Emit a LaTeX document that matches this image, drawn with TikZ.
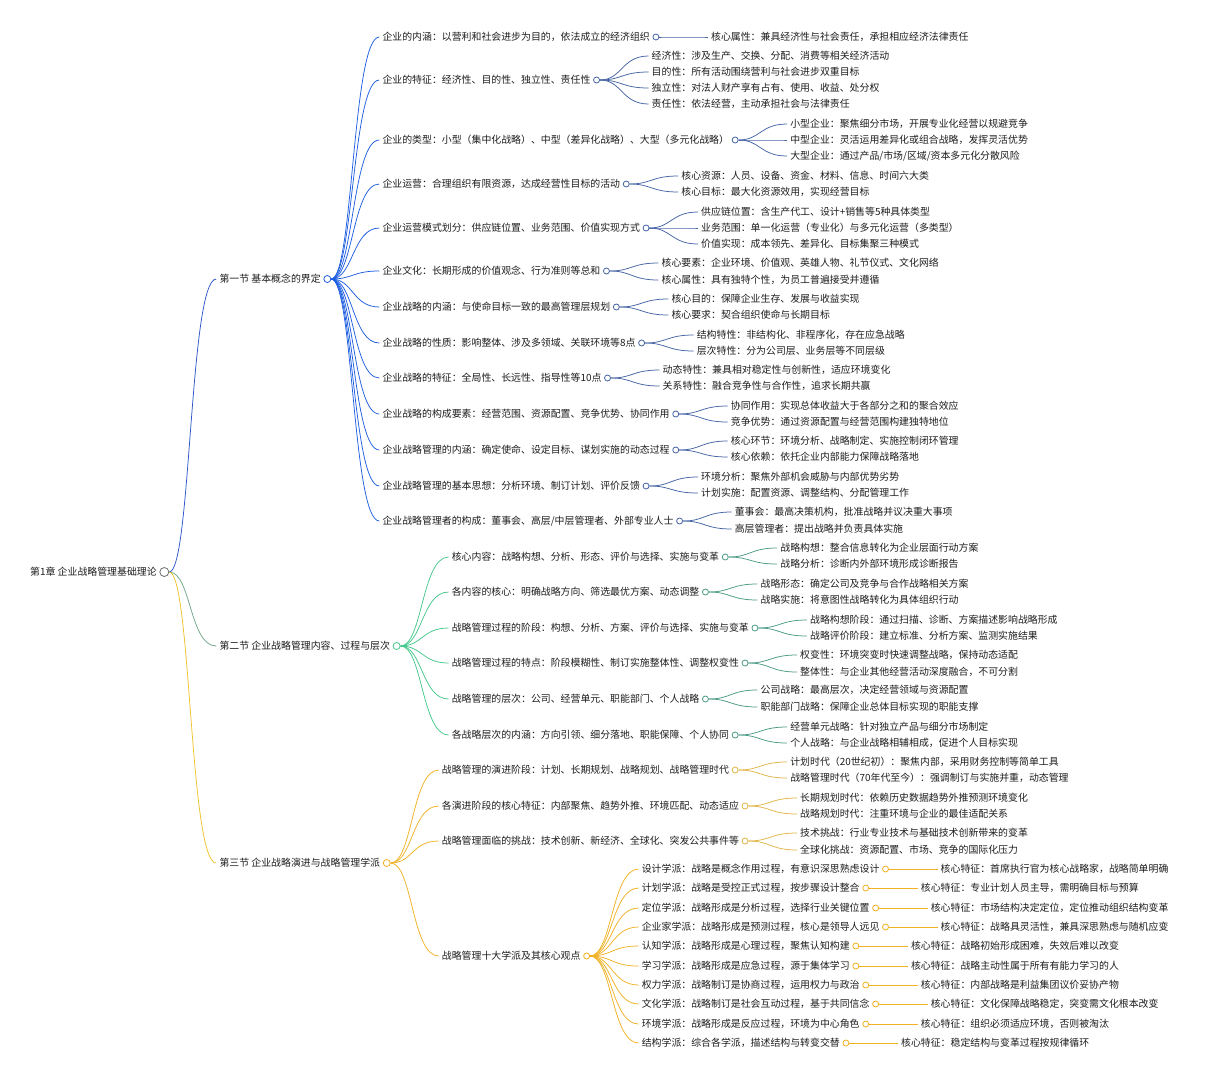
\documentclass[tikz,border=0pt]{standalone}
\usepackage{fontspec}
\setmainfont{Noto Sans CJK SC}
\usetikzlibrary{calc}
\definecolor{txtc}{RGB}{30,30,30}
\definecolor{rootc}{RGB}{110,110,110}
\definecolor{bmain}{RGB}{30,95,225}
\definecolor{broot}{RGB}{45,85,200}
\definecolor{bleaf}{RGB}{70,100,165}
\definecolor{gmain}{RGB}{70,200,140}
\definecolor{groot}{RGB}{110,165,135}
\definecolor{gleaf}{RGB}{75,155,135}
\definecolor{ymain}{RGB}{240,178,35}
\definecolor{yroot}{RGB}{240,195,45}
\definecolor{yleaf}{RGB}{225,182,70}
\newcommand\Pc[3][6pt]{\node[circ=#3, minimum size=#1, anchor=west] (#2c) at ([xshift=2.5pt]#2.east) {};}
\newcommand\Kd[5]{%
  \node[tx] (#1) at ($(#2.center |- 0,#3)+(55,0)$) {#5};
  \draw[conn, draw=#4] (#2.east) .. controls +(22,0) and +(-27,0) .. ([xshift=-3pt]#1.west);}
\begin{document}
\begin{tikzpicture}[x=1pt,y=-1pt,
  tx/.style={anchor=west, inner sep=0pt, text=txtc, font=\fontsize{9.9}{12}\selectfont, text height=8pt, text depth=2pt},
  circ/.style={circle, draw=#1, fill=white, inner sep=0pt, line width=0.8pt},
  conn/.style={line width=0.75pt}]
\useasboundingbox[fill=white] (0,0) rectangle (1206,1080);
% root
\node[tx] (r) at (30,572) {第1章 企业战略管理基础理论};
\Pc[9pt]{r}{rootc}
% sections
\Kd{s1}{rc}{279}{broot}{第一节 基本概念的界定}\Pc[7pt]{s1}{bmain}
\Kd{s2}{rc}{646}{groot}{第二节 企业战略管理内容、过程与层次}\Pc[7pt]{s2}{gmain}
\Kd{s3}{rc}{863}{yroot}{第三节 企业战略演进与战略管理学派}\Pc[7pt]{s3}{ymain}
% ===== section 1
\Kd{a1}{s1c}{37}{bmain}{企业的内涵：以营利和社会进步为目的，依法成立的经济组织}\Pc{a1}{bleaf}
\Kd{a1k1}{a1c}{37}{bleaf}{核心属性：兼具经济性与社会责任，承担相应经济法律责任}
\Kd{a2}{s1c}{80}{bmain}{企业的特征：经济性、目的性、独立性、责任性}\Pc{a2}{bleaf}
\Kd{a2k1}{a2c}{56}{bleaf}{经济性：涉及生产、交换、分配、消费等相关经济活动}
\Kd{a2k2}{a2c}{72}{bleaf}{目的性：所有活动围绕营利与社会进步双重目标}
\Kd{a2k3}{a2c}{88}{bleaf}{独立性：对法人财产享有占有、使用、收益、处分权}
\Kd{a2k4}{a2c}{104}{bleaf}{责任性：依法经营，主动承担社会与法律责任}
\Kd{a3}{s1c}{140}{bmain}{企业的类型：小型（集中化战略）、中型（差异化战略）、大型（多元化战略）}\Pc{a3}{bleaf}
\Kd{a3k1}{a3c}{124}{bleaf}{小型企业：聚焦细分市场，开展专业化经营以规避竞争}
\Kd{a3k2}{a3c}{140}{bleaf}{中型企业：灵活运用差异化或组合战略，发挥灵活优势}
\Kd{a3k3}{a3c}{156}{bleaf}{大型企业：通过产品/市场/区域/资本多元化分散风险}
\Kd{a4}{s1c}{184}{bmain}{企业运营：合理组织有限资源，达成经营性目标的活动}\Pc{a4}{bleaf}
\Kd{a4k1}{a4c}{176}{bleaf}{核心资源：人员、设备、资金、材料、信息、时间六大类}
\Kd{a4k2}{a4c}{192}{bleaf}{核心目标：最大化资源效用，实现经营目标}
\Kd{a5}{s1c}{228}{bmain}{企业运营模式划分：供应链位置、业务范围、价值实现方式}\Pc{a5}{bleaf}
\Kd{a5k1}{a5c}{212}{bleaf}{供应链位置：含生产代工、设计+销售等5种具体类型}
\Kd{a5k2}{a5c}{228}{bleaf}{业务范围：单一化运营（专业化）与多元化运营（多类型）}
\Kd{a5k3}{a5c}{244}{bleaf}{价值实现：成本领先、差异化、目标集聚三种模式}
\Kd{a6}{s1c}{271}{bmain}{企业文化：长期形成的价值观念、行为准则等总和}\Pc{a6}{bleaf}
\Kd{a6k1}{a6c}{263}{bleaf}{核心要素：企业环境、价值观、英雄人物、礼节仪式、文化网络}
\Kd{a6k2}{a6c}{280}{bleaf}{核心属性：具有独特个性，为员工普遍接受并遵循}
\Kd{a7}{s1c}{307}{bmain}{企业战略的内涵：与使命目标一致的最高管理层规划}\Pc{a7}{bleaf}
\Kd{a7k1}{a7c}{299}{bleaf}{核心目的：保障企业生存、发展与收益实现}
\Kd{a7k2}{a7c}{315}{bleaf}{核心要求：契合组织使命与长期目标}
\Kd{a8}{s1c}{343}{bmain}{企业战略的性质：影响整体、涉及多领域、关联环境等8点}\Pc{a8}{bleaf}
\Kd{a8k1}{a8c}{335}{bleaf}{结构特性：非结构化、非程序化，存在应急战略}
\Kd{a8k2}{a8c}{351}{bleaf}{层次特性：分为公司层、业务层等不同层级}
\Kd{a9}{s1c}{378}{bmain}{企业战略的特征：全局性、长远性、指导性等10点}\Pc{a9}{bleaf}
\Kd{a9k1}{a9c}{370}{bleaf}{动态特性：兼具相对稳定性与创新性，适应环境变化}
\Kd{a9k2}{a9c}{386}{bleaf}{关系特性：融合竞争性与合作性，追求长期共赢}
\Kd{a10}{s1c}{414}{bmain}{企业战略的构成要素：经营范围、资源配置、竞争优势、协同作用}\Pc{a10}{bleaf}
\Kd{a10k1}{a10c}{406}{bleaf}{协同作用：实现总体收益大于各部分之和的聚合效应}
\Kd{a10k2}{a10c}{422}{bleaf}{竞争优势：通过资源配置与经营范围构建独特地位}
\Kd{a11}{s1c}{450}{bmain}{企业战略管理的内涵：确定使命、设定目标、谋划实施的动态过程}\Pc{a11}{bleaf}
\Kd{a11k1}{a11c}{441}{bleaf}{核心环节：环境分析、战略制定、实施控制闭环管理}
\Kd{a11k2}{a11c}{457}{bleaf}{核心依赖：依托企业内部能力保障战略落地}
\Kd{a12}{s1c}{486}{bmain}{企业战略管理的基本思想：分析环境、制订计划、评价反馈}\Pc{a12}{bleaf}
\Kd{a12k1}{a12c}{477}{bleaf}{环境分析：聚焦外部机会威胁与内部优势劣势}
\Kd{a12k2}{a12c}{493}{bleaf}{计划实施：配置资源、调整结构、分配管理工作}
\Kd{a13}{s1c}{521}{bmain}{企业战略管理者的构成：董事会、高层/中层管理者、外部专业人士}\Pc{a13}{bleaf}
\Kd{a13k1}{a13c}{512}{bleaf}{董事会：最高决策机构，批准战略并议决重大事项}
\Kd{a13k2}{a13c}{529}{bleaf}{高层管理者：提出战略并负责具体实施}
% ===== section 2
\Kd{b1}{s2c}{557}{gmain}{核心内容：战略构想、分析、形态、评价与选择、实施与变革}\Pc{b1}{gleaf}
\Kd{b1k1}{b1c}{548}{gleaf}{战略构想：整合信息转化为企业层面行动方案}
\Kd{b1k2}{b1c}{564}{gleaf}{战略分析：诊断内外部环境形成诊断报告}
\Kd{b2}{s2c}{592}{gmain}{各内容的核心：明确战略方向、筛选最优方案、动态调整}\Pc{b2}{gleaf}
\Kd{b2k1}{b2c}{584}{gleaf}{战略形态：确定公司及竞争与合作战略相关方案}
\Kd{b2k2}{b2c}{600}{gleaf}{战略实施：将意图性战略转化为具体组织行动}
\Kd{b3}{s2c}{628}{gmain}{战略管理过程的阶段：构想、分析、方案、评价与选择、实施与变革}\Pc{b3}{gleaf}
\Kd{b3k1}{b3c}{620}{gleaf}{战略构想阶段：通过扫描、诊断、方案描述影响战略形成}
\Kd{b3k2}{b3c}{636}{gleaf}{战略评价阶段：建立标准、分析方案、监测实施结果}
\Kd{b4}{s2c}{663}{gmain}{战略管理过程的特点：阶段模糊性、制订实施整体性、调整权变性}\Pc{b4}{gleaf}
\Kd{b4k1}{b4c}{655}{gleaf}{权变性：环境突变时快速调整战略，保持动态适配}
\Kd{b4k2}{b4c}{672}{gleaf}{整体性：与企业其他经营活动深度融合，不可分割}
\Kd{b5}{s2c}{699}{gmain}{战略管理的层次：公司、经营单元、职能部门、个人战略}\Pc{b5}{gleaf}
\Kd{b5k1}{b5c}{690}{gleaf}{公司战略：最高层次，决定经营领域与资源配置}
\Kd{b5k2}{b5c}{707}{gleaf}{职能部门战略：保障企业总体目标实现的职能支撑}
\Kd{b6}{s2c}{735}{gmain}{各战略层次的内涵：方向引领、细分落地、职能保障、个人协同}\Pc{b6}{gleaf}
\Kd{b6k1}{b6c}{727}{gleaf}{经营单元战略：针对独立产品与细分市场制定}
\Kd{b6k2}{b6c}{743}{gleaf}{个人战略：与企业战略相辅相成，促进个人目标实现}
% ===== section 3
\Kd{c1}{s3c}{770}{ymain}{战略管理的演进阶段：计划、长期规划、战略规划、战略管理时代}\Pc{c1}{yleaf}
\Kd{c1k1}{c1c}{762}{yleaf}{计划时代（20世纪初）：聚焦内部，采用财务控制等简单工具}
\Kd{c1k2}{c1c}{778}{yleaf}{战略管理时代（70年代至今）：强调制订与实施并重，动态管理}
\Kd{c2}{s3c}{806}{ymain}{各演进阶段的核心特征：内部聚焦、趋势外推、环境匹配、动态适应}\Pc{c2}{yleaf}
\Kd{c2k1}{c2c}{798}{yleaf}{长期规划时代：依赖历史数据趋势外推预测环境变化}
\Kd{c2k2}{c2c}{814}{yleaf}{战略规划时代：注重环境与企业的最佳适配关系}
\Kd{c3}{s3c}{841}{ymain}{战略管理面临的挑战：技术创新、新经济、全球化、突发公共事件等}\Pc{c3}{yleaf}
\Kd{c3k1}{c3c}{833}{yleaf}{技术挑战：行业专业技术与基础技术创新带来的变革}
\Kd{c3k2}{c3c}{850}{yleaf}{全球化挑战：资源配置、市场、竞争的国际化压力}
\Kd{c4}{s3c}{956}{ymain}{战略管理十大学派及其核心观点}\Pc{c4}{ymain}
\Kd{d1}{c4c}{869}{ymain}{设计学派：战略是概念作用过程，有意识深思熟虑设计}\Pc{d1}{ymain}
\Kd{d1k}{d1c}{869}{ymain}{核心特征：首席执行官为核心战略家，战略简单明确}
\Kd{d2}{c4c}{888}{ymain}{计划学派：战略是受控正式过程，按步骤设计整合}\Pc{d2}{ymain}
\Kd{d2k}{d2c}{888}{ymain}{核心特征：专业计划人员主导，需明确目标与预算}
\Kd{d3}{c4c}{908}{ymain}{定位学派：战略形成是分析过程，选择行业关键位置}\Pc{d3}{ymain}
\Kd{d3k}{d3c}{908}{ymain}{核心特征：市场结构决定定位，定位推动组织结构变革}
\Kd{d4}{c4c}{927}{ymain}{企业家学派：战略形成是预测过程，核心是领导人远见}\Pc{d4}{ymain}
\Kd{d4k}{d4c}{927}{ymain}{核心特征：战略具灵活性，兼具深思熟虑与随机应变}
\Kd{d5}{c4c}{946}{ymain}{认知学派：战略形成是心理过程，聚焦认知构建}\Pc{d5}{ymain}
\Kd{d5k}{d5c}{946}{ymain}{核心特征：战略初始形成困难，失效后难以改变}
\Kd{d6}{c4c}{966}{ymain}{学习学派：战略形成是应急过程，源于集体学习}\Pc{d6}{ymain}
\Kd{d6k}{d6c}{966}{ymain}{核心特征：战略主动性属于所有有能力学习的人}
\Kd{d7}{c4c}{985}{ymain}{权力学派：战略制订是协商过程，运用权力与政治}\Pc{d7}{ymain}
\Kd{d7k}{d7c}{985}{ymain}{核心特征：内部战略是利益集团议价妥协产物}
\Kd{d8}{c4c}{1004}{ymain}{文化学派：战略制订是社会互动过程，基于共同信念}\Pc{d8}{ymain}
\Kd{d8k}{d8c}{1004}{ymain}{核心特征：文化保障战略稳定，突变需文化根本改变}
\Kd{d9}{c4c}{1024}{ymain}{环境学派：战略形成是反应过程，环境为中心角色}\Pc{d9}{ymain}
\Kd{d9k}{d9c}{1024}{ymain}{核心特征：组织必须适应环境，否则被淘汰}
\Kd{d10}{c4c}{1043}{ymain}{结构学派：综合各学派，描述结构与转变交替}\Pc{d10}{ymain}
\Kd{d10k}{d10c}{1043}{ymain}{核心特征：稳定结构与变革过程按规律循环}
\end{tikzpicture}
\end{document}
